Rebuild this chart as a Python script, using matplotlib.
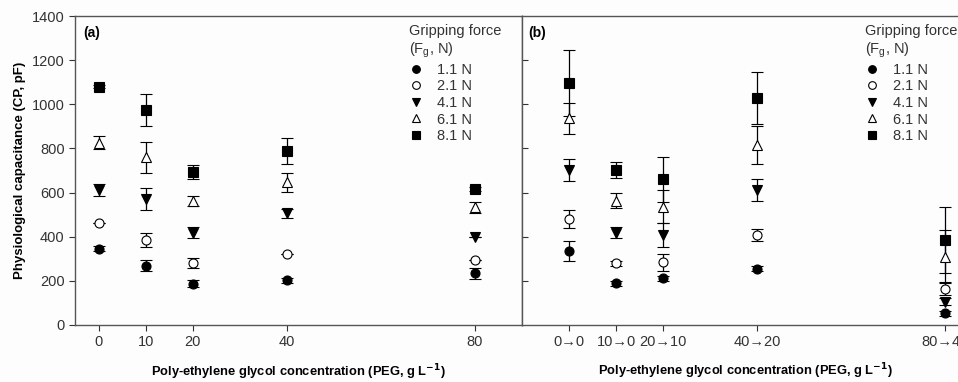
import matplotlib.pyplot as plt

plt.rcParams['font.family'] = ['Liberation Sans', 'DejaVu Sans']

forces = ['1.1 N', '2.1 N', '4.1 N', '6.1 N', '8.1 N']

# panel (a): PEG concentration
peg_a = [0, 10, 20, 40, 80]
a_11 = [346, 269, 187, 202, 234]
a_11_err = [10, 26, 17, 10, 25]
a_21 = [463, 385, 282, 320, 294]
a_21_err = [0, 32, 23, 0, 0]
a_41 = [612, 570, 418, 506, 400]
a_41_err = [29, 49, 25, 20, 0]
a_61 = [826, 760, 562, 646, 533]
a_61_err = [30, 70, 24, 43, 26]
a_81 = [1080, 974, 693, 788, 615]
a_81_err = [8, 72, 30, 60, 8]

# panel (b): recovery (same spacing as panel a)
pos_b = [0, 10, 20, 40, 80]
labels_b = ['0\u21920', '10\u21920', '20\u219210', '40\u219220', '80\u219240']
b_11 = [337, 189, 212, 255, 53]
b_11_err = [45, 12, 12, 12, 12]
b_21 = [479, 279, 284, 408, 165]
b_21_err = [40, 10, 38, 26, 30]
b_41 = [702, 418, 408, 612, 106]
b_41_err = [50, 25, 56, 51, 15]
b_61 = [936, 563, 536, 816, 310]
b_61_err = [70, 35, 75, 85, 121]
b_81 = [1095, 702, 661, 1030, 385]
b_81_err = [150, 38, 102, 118, 148]

styles = [('o', 'black'), ('o', 'white'), ('v', 'black'), ('^', 'white'), ('s', 'black')]

fig = plt.figure(figsize=(9.58, 3.82), dpi=100)
fig.patch.set_facecolor('#fdfdfd')

ax1 = fig.add_axes([75/958, 57/382, 447/958, 309/382])
ax2 = fig.add_axes([522/958, 57/382, 470/958, 309/382])

series_a = [(a_11, a_11_err), (a_21, a_21_err), (a_41, a_41_err), (a_61, a_61_err), (a_81, a_81_err)]
series_b = [(b_11, b_11_err), (b_21, b_21_err), (b_41, b_41_err), (b_61, b_61_err), (b_81, b_81_err)]

xlabel = 'Poly-ethylene glycol concentration (PEG, g L$^{\\mathbf{-1}}$)'

for ax, xs, series, anchor_x in [(ax1, peg_a, series_a, 0.728), (ax2, pos_b, series_b, 0.711)]:
    ax.set_facecolor('#fdfdfd')
    handles = []
    for (ys, es), (m, fc), lab in zip(series, styles, forces):
        cont = ax.errorbar(xs, ys, yerr=es, fmt=m, mfc=fc, mec='black', color='black',
                           ms=6.5, mew=0.8, elinewidth=0.9, capsize=4, capthick=0.9,
                           label=lab, zorder=3)
        handles.append(cont[0])
    ax.set_ylim(0, 1400)
    for s in ax.spines.values():
        s.set_color('#555555')
        s.set_linewidth(1.0)
    leg = ax.legend(handles, forces, loc='upper left', bbox_to_anchor=(anchor_x, 1.003),
                    frameon=False, fontsize=10.5,
                    title='Gripping force\n(F$_\\mathregular{g}$, N)', title_fontsize=10.5,
                    alignment='left', handletextpad=0.9, labelspacing=0.18,
                    borderaxespad=0.2, markerscale=0.85, handlelength=1.0)
    for t in leg.get_texts():
        t.set_color('#333333')
    leg.get_title().set_color('#333333')
    ax.set_xlabel(xlabel, fontsize=9.3, fontweight='bold')
    ax.xaxis.label.set_va('center')

ax1.set_xlim(-5, 90)
ax1.set_xticks(peg_a)
ax1.set_yticks(range(0, 1401, 200))
ax1.tick_params(axis='both', direction='out', length=4, labelsize=10.5, colors='#333333')
ax1.set_ylabel('Physiological capacitance (CP, pF)', fontsize=9.5, fontweight='bold', labelpad=4)
ax1.xaxis.set_label_coords((298 - 75) / 447, -(372 - 325) / 309)
ax1.text(0.018, 0.968, '(a)', transform=ax1.transAxes, fontsize=10, fontweight='bold',
         va='top')

ax2.set_xlim(-10, 90)
ax2.set_xticks(pos_b)
ax2.set_xticklabels(labels_b)
ax2.set_yticks(range(200, 1201, 200))
ax2.tick_params(axis='y', direction='in', length=4, labelleft=False, colors='#333333')
ax2.tick_params(axis='x', direction='out', length=4, labelsize=10.5, colors='#333333')
ax2.xaxis.set_label_coords((745 - 522) / 470, -(371 - 325) / 309)
ax2.text(0.013, 0.968, '(b)', transform=ax2.transAxes, fontsize=10, fontweight='bold',
         va='top')

fig.savefig('out.png', dpi=100, facecolor=fig.get_facecolor())
